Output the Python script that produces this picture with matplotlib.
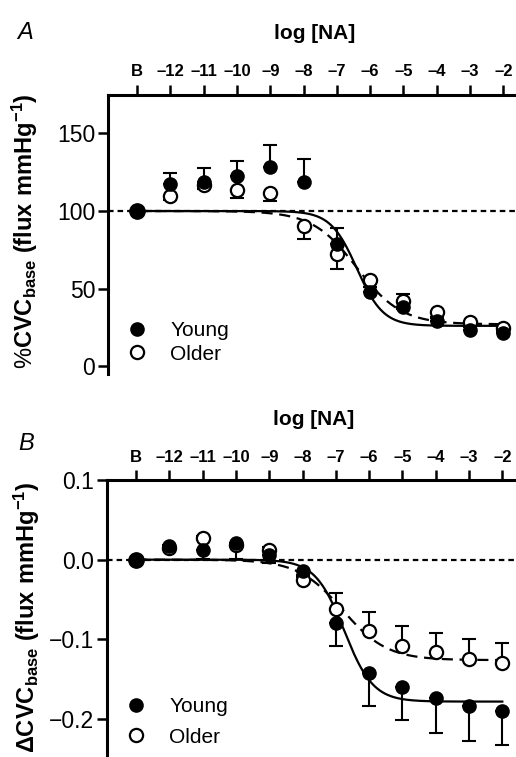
import numpy as np
import matplotlib
matplotlib.use('Agg')
import matplotlib.pyplot as plt

plt.rcParams['font.family'] = ['Liberation Sans', 'DejaVu Sans']
plt.rcParams['mathtext.fontset'] = 'custom'
plt.rcParams['mathtext.rm'] = 'Liberation Sans'
plt.rcParams['mathtext.bf'] = 'Liberation Sans:bold'

# log [NA] positions (B = baseline drawn at -13)
dose = np.array([-13, -12, -11, -10, -9, -8, -7, -6, -5, -4, -3, -2])
dose_labels = ['B', '\u201312', '\u201311', '\u201310', '\u20139', '\u20138',
               '\u20137', '\u20136', '\u20135', '\u20134', '\u20133', '\u20132']

# panel A: %CVCbase
a_young = np.array([100, 117.3, 118.8, 122.6, 128.4, 118.8, 79, 47.9, 38.3, 29, 23.3, 21.2])
a_young_up = np.array([0, 7, 8.6, 9.8, 14.2, 15, 10, 3, 8.5, 2, 2, 2])
a_older = np.array([100, 109.8, 117, 113.5, 111.5, 90.6, 72.4, 55.3, 42, 35, 28.6, 24.4])
a_older_dn = np.array([0, 3, 3, 5.2, 5.3, 8.6, 10, 4, 5, 3, 2, 2])

# panel B: delta CVCbase
b_young = np.array([0, 0.0167, 0.0125, 0.021, 0.006, -0.014, -0.079, -0.1425, -0.160, -0.173, -0.183, -0.190])
b_young_dn = np.array([0, 0.004, 0.012, 0.02, 0.01, 0.008, 0.029, 0.041, 0.041, 0.045, 0.044, 0.043])
b_older = np.array([0, 0.015, 0.027, 0.018, 0.0125, -0.025, -0.0625, -0.0896, -0.108, -0.116, -0.125, -0.129])
b_older_up = np.array([0, 0.003, 0.003, 0.003, 0.004, 0.006, 0.021, 0.024, 0.025, 0.024, 0.026, 0.024])

# sigmoid fits: top, bottom, logEC50, hill slope
fit_a_young = (100, 26, -6.4, 1.1)
fit_a_older = (100, 27, -6.4, 0.65)
fit_b_young = (0, -0.178, -6.75, 1.0)
fit_b_older = (0, -0.126, -6.8, 0.65)


def hill(x, top, bottom, ec50, slope):
    return bottom + (top - bottom) / (1 + 10 ** ((x - ec50) * slope))


fig = plt.figure(figsize=(5.16, 7.57), dpi=100)
axA = fig.add_axes([0.209, 0.506, 0.80, 0.369])
axB = fig.add_axes([0.207, 0.0, 0.80, 0.366])

xs = np.linspace(-13, -2, 300)


def draw(ax, young, ey, older, eo, fy, fo, young_down, ref, lspace):
    ax.axhline(ref, color='black', lw=1.6, ls=(0, (2.5, 1.8)), zorder=1)
    ax.plot(xs, hill(xs, *fy), color='black', lw=1.6, zorder=2)
    ax.plot(xs, hill(xs, *fo), color='black', lw=1.6, ls=(0, (5, 3)), zorder=2)
    z = np.zeros_like(ey)
    yerr_y = [ey, z] if young_down else [z, ey]
    yerr_o = [z, eo] if young_down else [eo, z]
    ax.errorbar(dose, older, yerr=yerr_o, fmt='none', ecolor='black', elinewidth=1.5,
                capsize=5, capthick=1.5, zorder=3)
    ax.errorbar(dose, young, yerr=yerr_y, fmt='none', ecolor='black', elinewidth=1.5,
                capsize=5, capthick=1.5, zorder=3)
    ax.plot(dose, older, 'o', ms=9.5, mfc='white', mec='black', mew=1.6, zorder=4,
            label='Older')
    ax.plot(dose[1:], young[1:], 'o', ms=9.5, mfc='black', mec='black', zorder=5)
    ax.plot(dose[0], young[0], 'o', ms=11, mfc='black', mec='black', zorder=5)
    ax.plot([], [], 'o', ms=9.5, mfc='black', mec='black', label='Young')

    ax.set_xlim(-13.88, -1.48)
    ax.xaxis.tick_top()
    ax.xaxis.set_label_position('top')
    ax.set_xticks(dose)
    ax.set_xticklabels(dose_labels, fontweight='bold', fontsize=12)
    ax.set_xlabel('log [NA]', fontweight='bold', fontsize=15, labelpad=18)
    for s in ['right', 'bottom']:
        ax.spines[s].set_visible(False)
    for s in ['left', 'top']:
        ax.spines[s].set_linewidth(2.2)
    ax.tick_params(axis='x', direction='out', length=7, width=1.8, pad=4)
    ax.tick_params(axis='y', direction='out', length=7, width=1.8, labelsize=16.5, pad=2)
    h, l = ax.get_legend_handles_labels()
    ax.legend(h[::-1], l[::-1], loc='lower left', bbox_to_anchor=(-0.005, -0.03), frameon=False,
              fontsize=15, handletextpad=1.0, labelspacing=lspace, handlelength=1.2)


draw(axA, a_young, a_young_up, a_older, a_older_dn, fit_a_young, fit_a_older, False, 100, 0.2)
axA.set_ylim(-5, 175)
axA.set_yticks([0, 50, 100, 150])
axA.set_ylabel(r'%$\mathbf{CVC}_{\mathbf{base}}$ $\mathbf{(flux\ mmHg^{-1})}$', fontsize=17)
axA.yaxis.set_label_coords(-0.165, 0.51)

draw(axB, b_young, b_young_dn, b_older, b_older_up, fit_b_young, fit_b_older, True, 0, 0.55)
axB.set_ylim(-0.2475, 0.1)
axB.set_yticks([-0.2, -0.1, 0.0, 0.1])
axB.set_yticklabels(['\u22120.2', '\u22120.1', '0.0', '0.1'])
axB.set_ylabel(r'$\mathbf{\Delta CVC}_{\mathbf{base}}$ $\mathbf{(flux\ mmHg^{-1})}$', fontsize=17)
axB.yaxis.set_label_coords(-0.157, 0.505)

fig.text(0.033, 0.948, 'A', fontsize=17, fontstyle='italic')
fig.text(0.035, 0.405, 'B', fontsize=17, fontstyle='italic')

fig.savefig('out.png', dpi=100)
